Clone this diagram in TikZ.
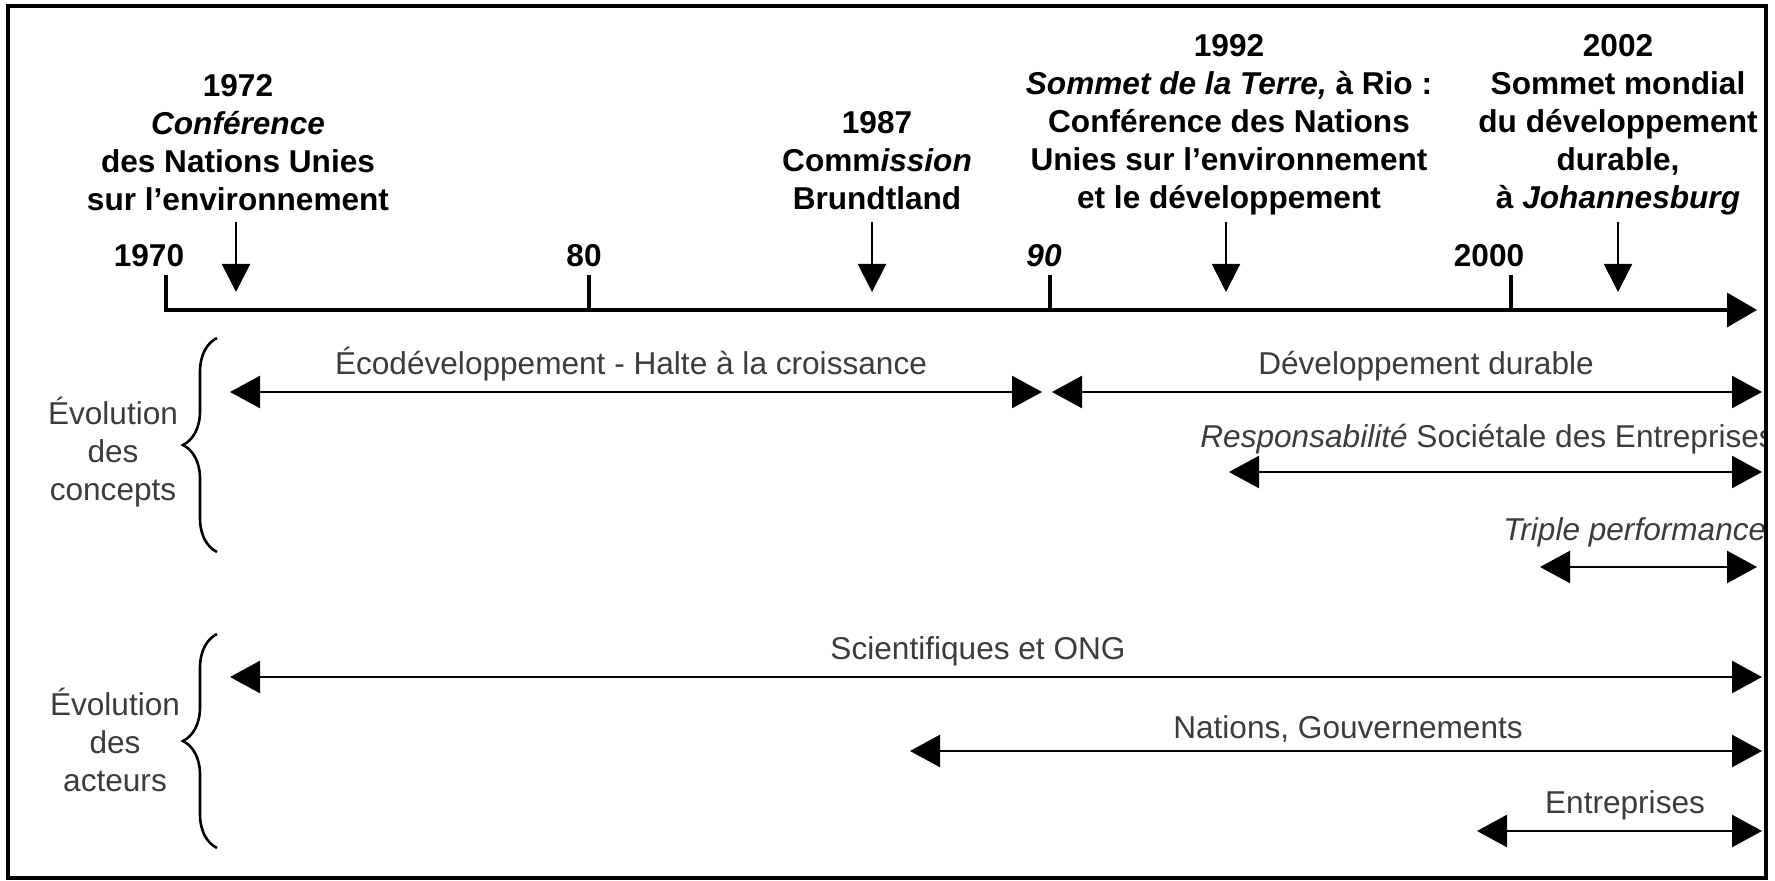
\documentclass[tikz,border=0pt]{standalone}
\usepackage{fontspec}
\setmainfont{Liberation Sans}
\usetikzlibrary{arrows.meta,decorations.pathreplacing}
\definecolor{gristexte}{RGB}{60,60,60}
\tikzset{
	evtlbl/.style={font=\bfseries\fontsize{15.8}{19}\selectfont, align=center, inner sep=0pt},
	lbl/.style={font=\fontsize{15.8}{19}\selectfont, text=gristexte, inner sep=0pt, anchor=base},
	span/.style={{Triangle[length=15pt,width=16pt]}-{Triangle[length=15pt,width=16pt]}, line width=1.3pt},
	evt/.style={-{Triangle[length=14pt,width=14pt]}, line width=1pt},
	accolade/.style={decorate, decoration={brace, amplitude=17pt}, line width=1.3pt}
}
\begin{document}
\begin{tikzpicture}[x=0.5pt,y=-0.5pt]
			\useasboundingbox (0,0) rectangle (1775,881);
			\begin{scope}
				\clip (8,6) rectangle (1766,878);
				
				\coordinate (t0) at (166,275);
				\coordinate (o) at (166,310);
				\coordinate (fin) at (1757,310);
				\draw[line width=1.6pt,-{Triangle[length=15pt,width=17pt]}] (t0) -- (o) -- (fin);
				\node[evtlbl,anchor=base] (an0) at (149,267) {1970};
				\foreach \x/\lx/\t [count=\i] in {589/584/80, 1050/1044/\textit{90}, 1511/1489/2000}{
					\coordinate (tk\i) at (\x,275);
					\coordinate (tb\i) at (\x,310);
					\draw[line width=1.6pt] (tk\i) -- (tb\i);
					\node[evtlbl,anchor=base] (an\i) at (\lx,267) {\t};
				}
				
				\foreach \x/\n in {236/a,872/b,1226/c,1618/d}{
					\coordinate (h\n) at (\x,222);
					\coordinate (p\n) at (\x,292);
					\draw[evt] (h\n) -- (p\n);
				}
				\node[evtlbl] (ev1972) at (238,143) {1972\\\textit{Conférence}\\des Nations Unies\\sur l’environnement};
				\node[evtlbl] (ev1987) at (877,161) {1987\\Comm\textit{ission}\\Brundtland};
				\node[evtlbl] (ev1992) at (1229,125) {1992\\\textit{Sommet de la Terre,} à Rio :\\Conférence des Nations\\Unies sur l’environnement\\et le développement};
				\node[evtlbl] (ev2002) at (1618,125) {2002\\Sommet mondial\\du développement\\durable,\\à \textit{Johannesburg}};
				
				\draw[accolade] (217,552) -- (217,338);
				\node[lbl,align=center,anchor=center] (concepts) at (113,452) {Évolution\\des\\concepts};
				\draw[accolade] (217,848) -- (217,634);
				\node[lbl,align=center,anchor=center] (acteurs) at (115,740) {Évolution\\des\\acteurs};
				
				\coordinate (eco1) at (230,392);
				\coordinate (eco2) at (1042,392);
				\draw[span] (eco1) -- (eco2);
				\node[lbl] (eco) at (631,375) {Écodéveloppement - Halte à la croissance};
				
				\coordinate (dd1) at (1052,392);
				\coordinate (dd2) at (1762,392);
				\draw[span] (dd1) -- (dd2);
				\node[lbl] (dd) at (1426,375) {Développement durable};
				
				\coordinate (rse1) at (1229,472);
				\coordinate (rse2) at (1762,472);
				\draw[span] (rse1) -- (rse2);
				\node[lbl,anchor=base west] (rse) at (1200,447) {\textit{Responsabilité} Sociétale des Entreprises};
				
				\coordinate (tp1) at (1540,567);
				\coordinate (tp2) at (1757,567);
				\draw[span] (tp1) -- (tp2);
				\node[lbl,anchor=base west] (tp) at (1503,540) {\textit{Triple performance}};
				
				\coordinate (sci1) at (230,677);
				\coordinate (sci2) at (1762,677);
				\draw[span] (sci1) -- (sci2);
				\node[lbl] (sci) at (978,659) {Scientifiques et ONG};
				
				\coordinate (nat1) at (910,751);
				\coordinate (nat2) at (1762,751);
				\draw[span] (nat1) -- (nat2);
				\node[lbl] (nat) at (1348,738) {Nations, Gouvernements};
				
				\coordinate (ent1) at (1477,831);
				\coordinate (ent2) at (1762,831);
				\draw[span] (ent1) -- (ent2);
				\node[lbl] (ent) at (1625,813) {Entreprises};
			\end{scope}
			
			\draw[line width=2pt] (8,6) rectangle (1766,878);
		\end{tikzpicture}
\end{document}
